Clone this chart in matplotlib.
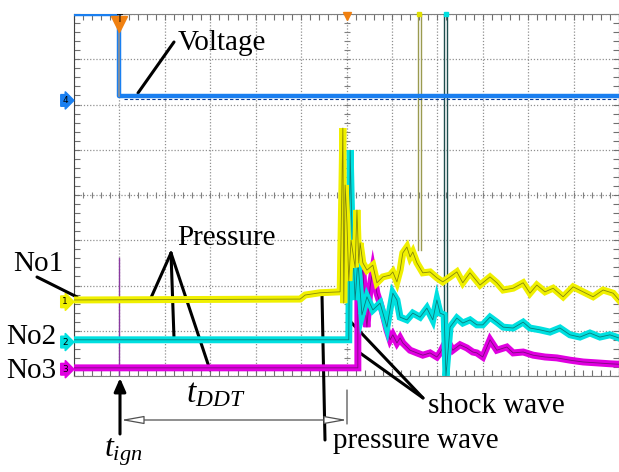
import numpy as np
import matplotlib.pyplot as plt

plt.rcParams['font.family'] = ['Liberation Serif', 'DejaVu Serif']
plt.rcParams['mathtext.fontset'] = 'custom'
plt.rcParams['mathtext.rm'] = 'Liberation Serif'
plt.rcParams['mathtext.it'] = 'Liberation Serif:italic'

# oscilloscope traces, time and level in screen divisions (12 x 8)
volt_t = [0.0, 1.0, 1.0, 12.0]
volt_v = [8.0, 8.0, 6.19, 6.19]

p1_t = [0.00, 4.98, 5.09, 5.42, 5.86, 5.92, 5.94, 5.97, 6.01, 6.05, 6.10, 6.19, 6.23,
        6.27, 6.30, 6.36, 6.45, 6.58, 6.67, 6.80, 6.96, 7.02, 7.11, 7.18, 7.24, 7.33,
        7.40, 7.46, 7.55, 7.68, 7.84, 7.99, 8.12, 8.28, 8.43, 8.56, 8.72, 8.94, 9.16,
        9.31, 9.45, 9.67, 9.89, 10.04, 10.19, 10.37, 10.55, 10.77, 10.99, 11.21,
        11.43, 11.65, 11.87, 12.00]
p1_v = [1.68, 1.70, 1.79, 1.84, 1.86, 5.48, 1.61, 4.22, 3.38, 2.10, 3.00, 2.40, 3.67,
        2.50, 2.94, 2.50, 2.34, 2.45, 2.06, 2.19, 2.23, 2.30, 2.08, 2.34, 2.72, 2.85,
        2.63, 2.74, 2.50, 2.28, 2.30, 2.17, 2.08, 2.19, 2.30, 2.06, 2.28, 2.01, 2.19,
        2.06, 1.90, 1.94, 2.06, 1.83, 2.01, 1.86, 1.94, 1.75, 1.97, 1.86, 1.75, 1.90,
        1.83, 1.68]

p2_t = [0.00, 6.05, 6.08, 6.12, 6.19, 6.25, 6.34, 6.45, 6.58, 6.74, 6.89, 7.02, 7.11,
        7.18, 7.33, 7.46, 7.62, 7.77, 7.90, 7.99, 8.06, 8.15, 8.19, 8.28, 8.43, 8.56,
        8.72, 8.87, 9.00, 9.16, 9.31, 9.45, 9.67, 9.89, 10.04, 10.26, 10.48, 10.70,
        10.92, 11.14, 11.36, 11.58, 11.80, 12.00]
p2_v = [0.80, 0.80, 4.99, 3.23, 1.68, 2.56, 1.35, 1.75, 1.46, 1.61, 1.08, 1.83, 1.68,
        1.30, 1.24, 1.39, 1.30, 1.50, 1.24, 1.68, 1.39, 1.35, 0.00, 1.08, 1.28, 1.17,
        1.24, 1.13, 1.13, 1.30, 1.19, 1.08, 1.06, 1.19, 1.06, 1.02, 0.97, 1.06, 0.91,
        0.86, 0.95, 0.86, 0.91, 0.84]

p3_t = [0.00, 6.25, 6.25, 6.30, 6.36, 6.41, 6.45, 6.52, 6.58, 6.67, 6.74, 6.80, 6.89,
        6.96, 7.02, 7.11, 7.18, 7.24, 7.40, 7.55, 7.68, 7.84, 7.99, 8.06, 8.21, 8.34,
        8.50, 8.65, 8.78, 8.87, 9.00, 9.16, 9.31, 9.53, 9.67, 9.89, 10.11, 10.37,
        10.63, 10.92, 11.21, 11.51, 11.80, 12.00]
p3_v = [0.18, 0.18, 2.61, 2.06, 2.34, 1.52, 1.08, 1.97, 2.34, 1.83, 1.61, 1.39, 1.02,
        0.80, 0.91, 0.73, 0.84, 0.73, 0.57, 0.51, 0.46, 0.51, 0.42, 0.51, 0.80, 0.57,
        0.69, 0.62, 0.53, 0.51, 0.42, 0.80, 0.57, 0.64, 0.51, 0.53, 0.46, 0.42, 0.40,
        0.35, 0.31, 0.29, 0.27, 0.26]

# single-sample glitches (time, low, high)
spikes = [(1.00, 0.00, 2.60, '#8a3aa0'), (6.27, 0.18, 3.67, '#c080d0'),
          (7.58, 2.78, 8.0, '#9a9a50'), (7.64, 2.78, 8.0, '#9a9a50'),
          (8.15, 0.0, 8.0, '#1f4f4f'), (8.21, 0.0, 8.0, '#1f4f4f')]

W, H = 619, 472
fig = plt.figure(figsize=(W / 100, H / 100), dpi=100)
ax = fig.add_axes([74 / W, (H - 376) / H, (W - 74) / W, 362 / H])
ax.set_xlim(0, 12)
ax.set_ylim(0, 8)

ax.set_xticks(range(13))
ax.set_yticks(range(9))
ax.set_xticks(np.arange(0, 12.01, 0.2), minor=True)
ax.set_yticks(np.arange(0, 8.01, 0.2), minor=True)
ax.tick_params(which='both', direction='in', length=4, top=True, right=True,
               labelbottom=False, labelleft=False, color='#707070', width=0.8)
ax.grid(which='major', color='#909090', linestyle=(0, (1, 1.5)), linewidth=0.9)
for s in ax.spines.values():
    s.set_color('#808080')
ax.spines['left'].set_color('#404040')

# centre graticule ticks
c = np.arange(0, 12.01, 0.2)
ax.plot(c, np.full_like(c, 4), '|', color='#808080', ms=4, mew=0.8)
r = np.arange(0, 8.01, 0.2)
ax.plot(np.full_like(r, 6), r, '_', color='#808080', ms=4, mew=0.8)

for t, lo, hi, col in spikes:
    ax.plot([t, t], [lo, hi], color=col, lw=1.0, zorder=3)

ax.plot(volt_t, volt_v, color='#1a7ff0', lw=3.2, zorder=4)
ax.plot([1.0, 1.0], [8.0, 6.19], color='#909090', lw=1.2, zorder=5)
ax.plot([1.1, 12], [6.12, 6.12], color='#0a3a90', lw=0.8, ls=(0, (3, 2)), zorder=4)

traces = [(p1_t, p1_v, '#f0f000', '#5a5a10'),
          (p2_t, p2_v, '#00e0e0', '#105050'),
          (p3_t, p3_v, '#e000e0', '#501050')]
for t, v, col, dark in traces[::-1]:
    ax.plot(t, v, color=col, lw=5, zorder=4, solid_joinstyle='miter')
    ax.plot(t, v, color=dark, lw=0.6, alpha=0.7, zorder=4)

# channel tags and markers
tags = [('4', 6.09, '#1a7ff0'), ('1', 1.64, '#f0f000'),
        ('2', 0.75, '#00e0e0'), ('3', 0.15, '#e000e0')]
for lab, lev, col in tags:
    ax.text(-0.2, lev, lab, fontsize=6.5, family='DejaVu Sans', ha='center', va='center',
            clip_on=False, bbox=dict(boxstyle='rarrow,pad=0.15', fc=col, ec=col))
ax.plot(1.0, 7.78, marker='v', ms=11, color='#f08010', clip_on=False, zorder=6)
ax.text(1.0, 7.88, 'T', fontsize=7, family='DejaVu Sans', ha='center', va='center', zorder=7)
ax.plot(6.0, 7.96, marker='v', ms=6, color='#f08010', clip_on=False, zorder=6)
ax.plot(7.6, 8.0, marker='s', ms=3, color='#e0e000', clip_on=False, zorder=6)
ax.plot(8.18, 8.0, marker='s', ms=3, color='#00e0e0', clip_on=False, zorder=6)


def fp(x, y):
    return (x, H - y)


def line(a, b, lw=2.2, color='black'):
    ax.annotate('', xy=fp(*b), xytext=fp(*a), xycoords='figure pixels',
                textcoords='figure pixels',
                arrowprops=dict(arrowstyle='-', lw=lw, color=color, shrinkA=0, shrinkB=0))


fs = 21
fig.text(*fp(178, 50), 'Voltage', fontsize=fs, transform=None)
line((174, 42), (138, 93))
fig.text(*fp(177, 245), 'Pressure', fontsize=fs, transform=None)
line((171, 253), (150, 300))
line((171, 253), (174, 338))
line((171, 253), (210, 370))
fig.text(*fp(13, 271), 'No1', fontsize=fs, transform=None)
line((37, 277), (77, 297))
fig.text(*fp(6, 344), 'No2', fontsize=fs, transform=None)
fig.text(*fp(6, 378), 'No3', fontsize=fs, transform=None)

fig.text(*fp(428, 413), 'shock wave', fontsize=fs, transform=None)
line((348, 319), (423, 398))
line((360, 353), (423, 398))
fig.text(*fp(333, 448), 'pressure wave', fontsize=fs, transform=None)
line((322, 295), (325, 440))

ax.annotate('', xy=fp(120, 378), xytext=fp(120, 434), xycoords='figure pixels',
            textcoords='figure pixels',
            arrowprops=dict(arrowstyle='-|>,head_width=0.35,head_length=0.8', lw=2.2,
                            color='black', shrinkA=0, shrinkB=0))
fig.text(*fp(104, 457), r'$t_{ign}$', fontsize=23, transform=None)
fig.text(*fp(186, 402), r'$t_{DDT}$', fontsize=24, transform=None)
ax.annotate('', xy=fp(347, 420), xytext=fp(121, 420), xycoords='figure pixels',
            textcoords='figure pixels',
            arrowprops=dict(arrowstyle='<|-|>,head_width=0.25,head_length=1.4', lw=0.9,
                            color='#505050', fc='white', shrinkA=0, shrinkB=0))
line((347, 390), (347, 424), lw=0.9, color='#505050')

fig.savefig('out.png', dpi=100)
